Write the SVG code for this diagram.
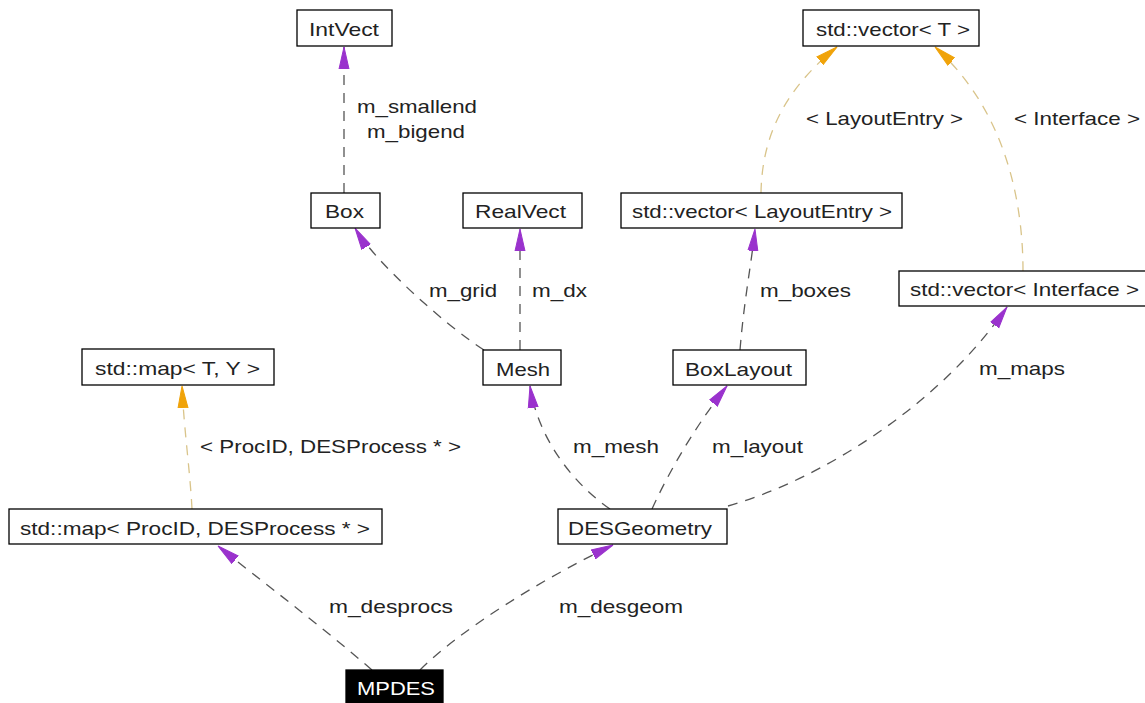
<svg xmlns="http://www.w3.org/2000/svg" width="1145" height="703" viewBox="0 0 1145 703">
<style>
.n rect{fill:#fff;stroke:#000;stroke-width:1.3}
.n.root rect{fill:#000}
text{font-family:"Liberation Sans",Arial,sans-serif;font-size:19px;fill:#222}
.n.root text{fill:#fff}
.e path{fill:none;stroke-width:1.3;stroke-dasharray:10,8}
.e .p{stroke:#555}
.e .o{stroke:#d9c48a}
</style>
<defs>
<marker id="ap" markerUnits="userSpaceOnUse" markerWidth="24" markerHeight="14" refX="22" refY="6" orient="auto" viewBox="0 0 24 12">
<path d="M0,1 L22,6 L0,11 Z" fill="#9a32cd" stroke="#9a32cd" stroke-width="1"/>
</marker>
<marker id="ao" markerUnits="userSpaceOnUse" markerWidth="24" markerHeight="14" refX="22" refY="6" orient="auto" viewBox="0 0 24 12">
<path d="M0,1 L22,6 L0,11 Z" fill="#f0a30a" stroke="#f0a30a" stroke-width="1"/>
</marker>
</defs>
<rect width="1145" height="703" fill="#fff"/>
<g id="connectors" class="e">
<path class="p" d="M344,193 L344,47" marker-end="url(#ap)"/>
<path class="p" d="M484,350 C445,325 375,262 355,228" marker-end="url(#ap)"/>
<path class="p" d="M520,350 L520,229" marker-end="url(#ap)"/>
<path class="p" d="M740,350 C744,300 752,260 755,229" marker-end="url(#ap)"/>
<path class="p" d="M610,509 C575,485 538,440 530,386" marker-end="url(#ap)"/>
<path class="p" d="M652,509 C672,465 700,420 727,386" marker-end="url(#ap)"/>
<path class="p" d="M728,506 C820,480 940,405 1007,307" marker-end="url(#ap)"/>
<path class="p" d="M372,670 C320,625 260,580 218,546" marker-end="url(#ap)"/>
<path class="p" d="M420,670 C460,630 540,580 613,545" marker-end="url(#ap)"/>
<path class="o" d="M192,509 C190,470 184,430 182,386" marker-end="url(#ao)"/>
<path class="o" d="M761,193 C762,130 790,85 837,47" marker-end="url(#ao)"/>
<path class="o" d="M1023,271 C1023,200 1005,110 935,47" marker-end="url(#ao)"/>
</g>
<g id="edge-labels">
<text x="357" y="113" textLength="120" lengthAdjust="spacingAndGlyphs">m_smallend</text>
<text x="367" y="138" textLength="98" lengthAdjust="spacingAndGlyphs">m_bigend</text>
<text x="806" y="125" textLength="157" lengthAdjust="spacingAndGlyphs">&lt; LayoutEntry &gt;</text>
<text x="1014" y="125" textLength="126" lengthAdjust="spacingAndGlyphs">&lt; Interface &gt;</text>
<text x="429" y="297" textLength="68" lengthAdjust="spacingAndGlyphs">m_grid</text>
<text x="532" y="297" textLength="55" lengthAdjust="spacingAndGlyphs">m_dx</text>
<text x="760" y="297" textLength="91" lengthAdjust="spacingAndGlyphs">m_boxes</text>
<text x="979" y="375" textLength="86" lengthAdjust="spacingAndGlyphs">m_maps</text>
<text x="200" y="453" textLength="261" lengthAdjust="spacingAndGlyphs">&lt; ProcID, DESProcess * &gt;</text>
<text x="573" y="453" textLength="86" lengthAdjust="spacingAndGlyphs">m_mesh</text>
<text x="712" y="453" textLength="91" lengthAdjust="spacingAndGlyphs">m_layout</text>
<text x="329" y="613" textLength="124" lengthAdjust="spacingAndGlyphs">m_desprocs</text>
<text x="559" y="613" textLength="124" lengthAdjust="spacingAndGlyphs">m_desgeom</text>
</g>
<g id="IntVect" class="n"><rect x="297" y="10" width="95" height="36"/><text x="309" y="36" textLength="70" lengthAdjust="spacingAndGlyphs">IntVect</text></g>
<g id="vectorT" class="n"><rect x="803" y="10" width="176" height="36"/><text x="816" y="36" textLength="154" lengthAdjust="spacingAndGlyphs">std::vector&lt; T &gt;</text></g>
<g id="Box" class="n"><rect x="311" y="193" width="69" height="35"/><text x="325" y="218" textLength="39" lengthAdjust="spacingAndGlyphs">Box</text></g>
<g id="RealVect" class="n"><rect x="463" y="193" width="119" height="35"/><text x="475" y="218" textLength="91" lengthAdjust="spacingAndGlyphs">RealVect</text></g>
<g id="vectorLayoutEntry" class="n"><rect x="621" y="193" width="281" height="35"/><text x="632" y="218" textLength="260" lengthAdjust="spacingAndGlyphs">std::vector&lt; LayoutEntry &gt;</text></g>
<g id="vectorInterface" class="n"><rect x="899" y="271" width="252" height="35"/><text x="910" y="296" textLength="229" lengthAdjust="spacingAndGlyphs">std::vector&lt; Interface &gt;</text></g>
<g id="mapTY" class="n"><rect x="82" y="349" width="192" height="36"/><text x="95" y="375" textLength="165" lengthAdjust="spacingAndGlyphs">std::map&lt; T, Y &gt;</text></g>
<g id="Mesh" class="n"><rect x="483" y="350" width="78" height="35"/><text x="496" y="376" textLength="54" lengthAdjust="spacingAndGlyphs">Mesh</text></g>
<g id="BoxLayout" class="n"><rect x="673" y="350" width="133" height="35"/><text x="685" y="376" textLength="107" lengthAdjust="spacingAndGlyphs">BoxLayout</text></g>
<g id="mapProcID" class="n"><rect x="9" y="509" width="373" height="35"/><text x="20" y="535" textLength="350" lengthAdjust="spacingAndGlyphs">std::map&lt; ProcID, DESProcess * &gt;</text></g>
<g id="DESGeometry" class="n"><rect x="558" y="509" width="169" height="35"/><text x="568" y="535" textLength="144" lengthAdjust="spacingAndGlyphs">DESGeometry</text></g>
<g id="MPDES" class="n root"><rect x="346" y="670" width="97" height="36"/><text x="357" y="695" textLength="78" lengthAdjust="spacingAndGlyphs">MPDES</text></g>
</svg>
